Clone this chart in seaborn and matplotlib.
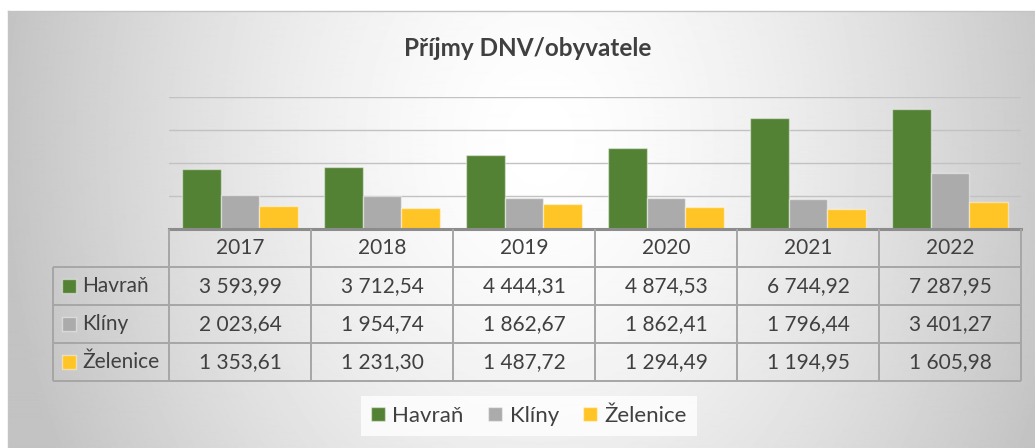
import matplotlib
matplotlib.use('Agg')
import matplotlib.pyplot as plt
import seaborn as sns
import numpy as np
import pandas as pd

# Data
years = ['2017', '2018', '2019', '2020', '2021', '2022']
obce = ['Havraň', 'Klíny', 'Želenice']
havran = [3593.99, 3712.54, 4444.31, 4874.53, 6744.92, 7287.95]
kliny = [2023.64, 1954.74, 1862.67, 1862.41, 1796.44, 3401.27]
zelenice = [1353.61, 1231.30, 1487.72, 1294.49, 1194.95, 1605.98]
colors = ['#548235', '#ABABAB', '#FFC425']
title = 'Příjmy DNV/obyvatele'

sns.set_style('white')
plt.rcParams['font.family'] = ['Lato', 'DejaVu Sans']
TXT = '#404040'
LINE = '#a6a6a6'

df = pd.DataFrame({
    'Rok': years * 3,
    'Obec': np.repeat(obce, len(years)),
    'Hodnota': havran + kliny + zelenice,
})


def fmt(v):
    return f'{v:,.2f}'.replace(',', ' ').replace('.', ',')


W, H = 1035, 448
fig = plt.figure(figsize=(W / 100, H / 100), dpi=100)
fig.patch.set_facecolor('white')

# Background gradient of the chart area
bg = fig.add_axes([8 / W, 0, 1027 / W, 437 / H], zorder=0)
gx, gy = np.meshgrid(np.arange(1027), np.arange(437))
t = np.sqrt(((gx - 532) / 540) ** 2 + ((gy - 130) / 700) ** 2).clip(0, 1)
shade = (255 - 60 * t ** 1.5) / 255
bg.imshow(shade, cmap='gray', vmin=0, vmax=1, aspect='auto', interpolation='bilinear')
bg.set_xticks([])
bg.set_yticks([])
for side in ['right', 'bottom']:
    bg.spines[side].set_visible(False)
for side in ['top', 'left']:
    bg.spines[side].set_color('#c4c4c4')
    bg.spines[side].set_linewidth(1)

# Bars
ax = fig.add_axes([169 / W, 1 - 228.5 / H, 852 / W, 131.5 / H], zorder=2)
ax.set_facecolor('none')
sns.barplot(data=df, x='Rok', y='Hodnota', hue='Obec', palette=colors, saturation=1,
            width=0.82, edgecolor=(1, 1, 1, 0.45), linewidth=1, ax=ax, zorder=3)
ax.set_xlim(-0.5, len(years) - 0.5)
ax.set_ylim(0, 8000)
ax.set_yticks([2000, 4000, 6000, 8000])
ax.yaxis.grid(True, color='#c2c2c2', linewidth=1)
ax.set_axisbelow(True)
ax.tick_params(left=False, bottom=False, labelleft=False, labelbottom=False)
ax.set_xlabel('')
ax.set_ylabel('')
for side in ['top', 'right', 'left']:
    ax.spines[side].set_visible(False)
ax.spines['bottom'].set_color('#8c8c8c')
ax.spines['bottom'].set_linewidth(2.2)
ax.spines['bottom'].set_zorder(5)

# Legend
sns.move_legend(ax, loc='center', bbox_to_anchor=(529 / W, 1 - 416 / H),
                bbox_transform=fig.transFigure, ncol=3, title=None, frameon=True,
                prop={'size': 16}, handlelength=0.62, handleheight=0.62, handletextpad=0.35,
                columnspacing=1.1, borderpad=0.45, fancybox=False)
leg = ax.get_legend()
leg.get_frame().set_facecolor((1, 1, 1, 0.2))
leg.get_frame().set_edgecolor('none')
for txt in leg.get_texts():
    txt.set_color(TXT)

# Data table
label_w = 116 / 142
x_left = -0.5 - label_w
tab = fig.add_axes([53 / W, 1 - 381 / H, 968 / W, 152.5 / H], zorder=2)
tab.set_xlim(x_left, len(years) - 0.5)
tab.set_ylim(4, 0)
tab.axis('off')
tab.patch.set_visible(False)

edges = np.arange(len(years) + 1) - 0.5
tab.vlines(edges, 0, 4, color=LINE, linewidth=1.4, clip_on=False)
tab.vlines(x_left, 1, 4, color=LINE, linewidth=1.4, clip_on=False)
tab.hlines([1, 2, 3, 4], x_left, len(years) - 0.5, color=LINE, linewidth=1.4, clip_on=False)

for i, yr in enumerate(years):
    tab.text(i, 0.5, yr, ha='center', va='center', fontsize=15, color=TXT)

for r, (name, vals, col) in enumerate(zip(obce, [havran, kliny, zelenice], colors), start=1):
    tab.scatter([x_left + 0.115], [r + 0.5], marker='s', s=115, color=col,
                edgecolor=(1, 1, 1, 0.45), linewidth=1, clip_on=False)
    tab.text(x_left + 0.205, r + 0.5, name, ha='left', va='center', fontsize=15, color=TXT)
    for i, v in enumerate(vals):
        tab.text(i, r + 0.5, fmt(v), ha='center', va='center', fontsize=15, color=TXT)

fig.text(528 / W, 1 - 49 / H, title, ha='center', va='center',
         fontsize=17.5, fontweight='bold', color=TXT)

plt.savefig('out.png', dpi=100)
plt.close()
